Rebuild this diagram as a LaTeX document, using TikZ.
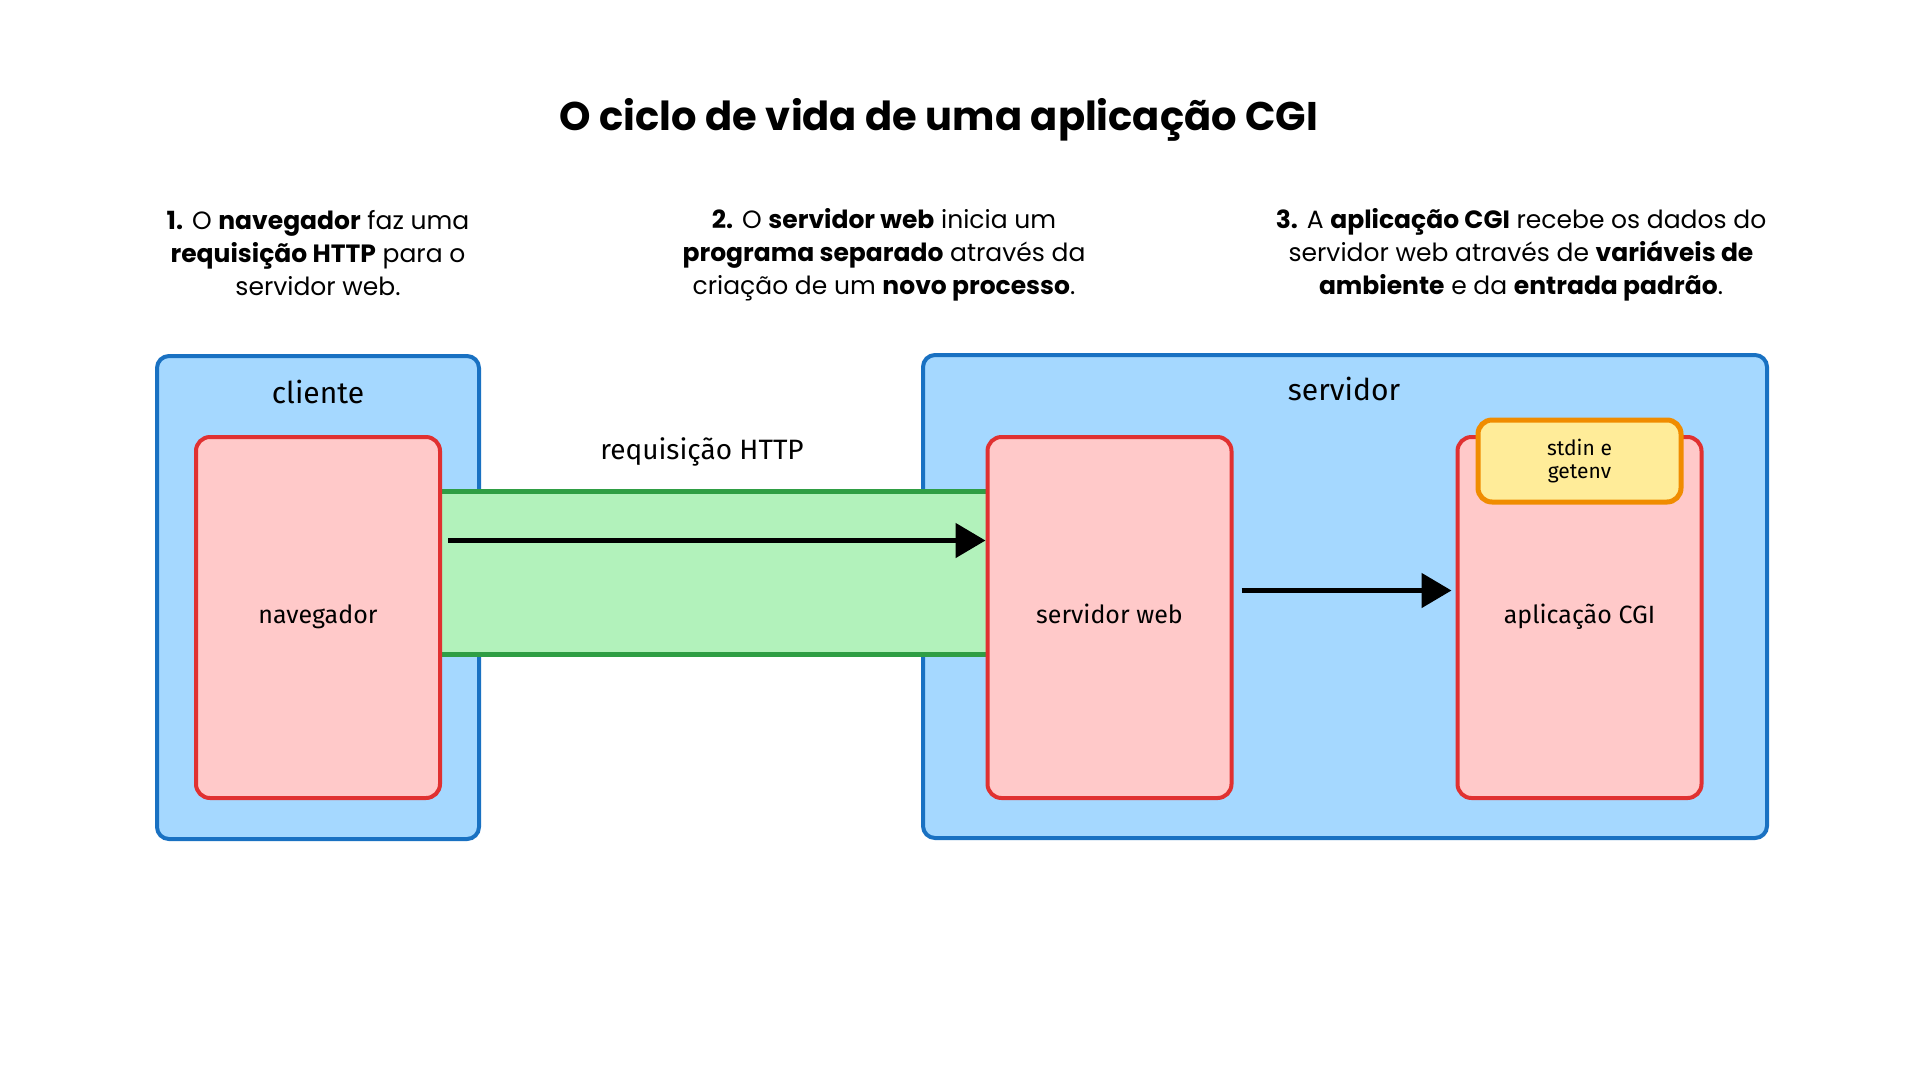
\documentclass[tikz,border=0pt]{standalone}
\usepackage{fontspec}
\setmainfont{Poppins}
\newfontfamily\hand{Fira Sans}
\usetikzlibrary{arrows.meta}
\definecolor{azulfundo}{HTML}{A5D8FF}
\definecolor{azulborda}{HTML}{1971C2}
\definecolor{vermfundo}{HTML}{FFC9C9}
\definecolor{vermborda}{HTML}{E03131}
\definecolor{verdefundo}{HTML}{B2F2BB}
\definecolor{verdeborda}{HTML}{2F9E44}
\definecolor{amarfundo}{HTML}{FFEC99}
\definecolor{amarborda}{HTML}{F08C00}
\tikzset{
  caixa/.style={draw=azulborda, fill=azulfundo, line width=4pt, rounded corners=12pt},
  proc/.style={draw=vermborda, fill=vermfundo, line width=4pt, rounded corners=14pt,
    minimum width=244pt, minimum height=361pt, text height=1.35em, text depth=0.25em,
    font=\hand\fontsize{25}{30}\selectfont},
  passo/.style={align=center, font=\fontsize{25}{33}\selectfont},
  rotulo/.style={font=\hand\fontsize{30}{34}\selectfont},
  seta/.style={line width=5pt, -{Triangle[length=30pt,width=34pt]}}
}
\begin{document}
\begin{tikzpicture}[x=1pt,y=-1pt]
  \fill[white] (0,0) rectangle (1920,1080);
  \useasboundingbox (0,0) rectangle (1920,1080);
  \node (titulo) at (939,120) {\fontsize{40}{48}\selectfont\bfseries O ciclo de vida de uma aplicação CGI};
  \node[passo] (p1) at (318,253) {\textbf{1.} O \textbf{navegador} faz uma\\ \textbf{requisição HTTP} para o\\ servidor web.};
  \node[passo] (p2) at (884,255) {\textbf{2.} O \textbf{servidor web} inicia um\\ \textbf{programa separado} através da\\ criação de um \textbf{novo processo}.};
  \node[passo] (p3) at (1521,255) {\textbf{3.} A \textbf{aplicação CGI} recebe os dados do\\ servidor web através de \textbf{variáveis de}\\ \textbf{ambiente} e da \textbf{entrada padrão}.};
  % caixas externas
  \node[caixa, minimum width=322pt, minimum height=483pt] (cliente) at (318,597.5) {};
  \node[caixa, minimum width=844pt, minimum height=483pt] (servidor) at (1345,596.5) {};
  \node[rotulo] (lcliente) at (318,392) {cliente};
  \node[rotulo] (lservidor) at (1344,389) {servidor};
  % faixa verde
  \fill[verdefundo] (440,491) rectangle (988,654);
  \draw[verdeborda, line width=5pt] (440,491) -- (988,491);
  \draw[verdeborda, line width=5pt] (440,654) -- (988,654);
  \node[rotulo, font=\hand\fontsize{28}{32}\selectfont] (lreq) at (702,452) {requisição HTTP};
  % processos
  \node[proc] (navegador) at (318,617.5) {navegador};
  \node[proc] (servweb) at (1109.5,617.5) {servidor web};
  \node[proc] (cgi) at (1579.5,617.5) {aplicação CGI};
  \node[draw=amarborda, fill=amarfundo, line width=5pt, rounded corners=14pt,
    minimum width=203pt, minimum height=82pt, align=center,
    font=\hand\fontsize{21}{23}\selectfont] (stdin) at (1579.5,461) {stdin e\\ getenv};
  % setas
  \draw[seta] ([yshift=77pt, xshift=6pt]navegador.east) -- ([yshift=77pt]servweb.west);
  \draw[seta] ([yshift=27pt, xshift=8pt]servweb.east) -- ([yshift=27pt, xshift=-4pt]cgi.west);
\end{tikzpicture}
\end{document}
